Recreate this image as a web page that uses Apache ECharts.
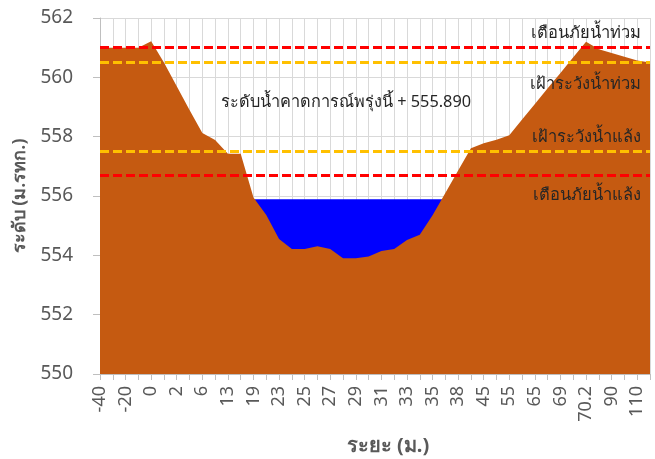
<!DOCTYPE html>
<html><head><meta charset="utf-8">
<script src="https://cdn.jsdelivr.net/npm/echarts@6/dist/echarts.min.js"></script>
<style>html,body{margin:0;padding:0;background:#fff}#c{width:655px;height:459px}</style>
</head><body><div id="c"></div>
<script>
const categories = ['-40','-30','-20','-10','0','1','2','4','6','10','13','16','19','21','23','24','25','26','27','28','29','30','31','32','33','34','35','36','38','40','45','50','55','60','65','67','69','70','70.2','80','90','100','110','120'];
const groundLevel = [561.0,561.0,561.0,561.0,561.22,560.5,559.7,558.9,558.12,557.89,557.42,557.42,555.95,555.36,554.55,554.21,554.21,554.31,554.21,553.9,553.9,553.96,554.15,554.21,554.52,554.69,555.35,556.1,556.86,557.61,557.78,557.9,558.05,558.58,559.1,559.63,560.15,560.68,561.2,560.95,560.82,560.69,560.57,560.5];
const forecastWater = 555.89;
const waterLevel = categories.map(() => forecastWater);
const floodWarning = 561.0;
const floodWatch = 560.5;
const droughtWatch = 557.5;
const droughtWarning = 556.7;
const yTicks = [550, 552, 554, 556, 558, 560, 562];

const FONT = 'Noto Sans, sans-serif';
const chart = echarts.init(document.getElementById('c'), null, {renderer: 'canvas'});
const dash = (c) => ({color: c, width: 3, type: [9, 4]});
chart.setOption({
  animation: false,
  textStyle: {fontFamily: FONT},
  grid: {left: 100, right: 5, top: 18, bottom: 85},
  xAxis: {
    type: 'category', data: categories, boundaryGap: false,
    axisLine: {lineStyle: {color: '#bfbfbf', width: 1}},
    axisTick: {interval: 0, length: 6, lineStyle: {color: '#bfbfbf'}},
    axisLabel: {interval: 1, rotate: 90, fontSize: 18, color: '#595959', margin: 12, fontFamily: FONT},
    splitLine: {show: true, interval: 0, lineStyle: {color: '#d9d9d9', width: 1}}
  },
  yAxis: {
    type: 'value', min: yTicks[0], max: yTicks[yTicks.length-1], interval: 2,
    name: 'ระดับ (ม.รทก.)', nameLocation: 'middle', nameGap: 71, nameRotate: 90,
    nameTextStyle: {fontSize: 18, fontWeight: 'bold', color: '#595959', fontFamily: FONT},
    axisLine: {show: true, lineStyle: {color: '#bfbfbf', width: 1}},
    axisTick: {show: true, inside: false, length: 7, lineStyle: {color: '#bfbfbf'}},
    axisLabel: {fontSize: 19, color: '#595959', margin: 27, fontFamily: FONT},
    splitLine: {show: true, lineStyle: {color: '#d9d9d9', width: 1}}
  },
  series: [
    {type: 'line', data: waterLevel, symbol: 'none', lineStyle: {width: 0},
     areaStyle: {color: '#0000FF', opacity: 1, origin: 'start'}, z: 2},
    {type: 'line', data: groundLevel, symbol: 'none', lineStyle: {width: 0},
     areaStyle: {color: '#C55A11', opacity: 1, origin: 'start'}, z: 3,
     markLine: {silent: true, symbol: 'none', label: {show: false}, z: 5,
       data: [
         {yAxis: floodWarning, lineStyle: dash('#FF0000')},
         {yAxis: floodWatch, lineStyle: dash('#FFC000')},
         {yAxis: droughtWatch, lineStyle: dash('#FFC000')},
         {yAxis: droughtWarning, lineStyle: dash('#FF0000')}
       ]}}
  ],
  graphic: [
    {type: 'text', x: 388, y: 446, z: 10, style: {text: 'ระยะ (ม.)', fill: '#595959', font: 'bold 20px ' + FONT, textAlign: 'center', textVerticalAlign: 'middle'}},
    {type: 'text', left: 221, top: 94, z: 10, style: {text: 'ระดับน้ำคาดการณ์พรุ่งนี้ + ' + forecastWater.toFixed(3), fill: '#262626', font: '16.3px ' + FONT}},
    {type: 'text', right: 14, top: 25, z: 10, style: {text: 'เตือนภัยน้ำท่วม', fill: '#262626', font: '16.5px ' + FONT}},
    {type: 'text', right: 14, top: 76, z: 10, style: {text: 'เฝ้าระวังน้ำท่วม', fill: '#262626', font: '16.5px ' + FONT}},
    {type: 'text', right: 14, top: 129, z: 10, style: {text: 'เฝ้าระวังน้ำแล้ง', fill: '#262626', font: '16.5px ' + FONT}},
    {type: 'text', right: 14, top: 187, z: 10, style: {text: 'เตือนภัยน้ำแล้ง', fill: '#262626', font: '16.5px ' + FONT}}
  ]
});
</script></body></html>
